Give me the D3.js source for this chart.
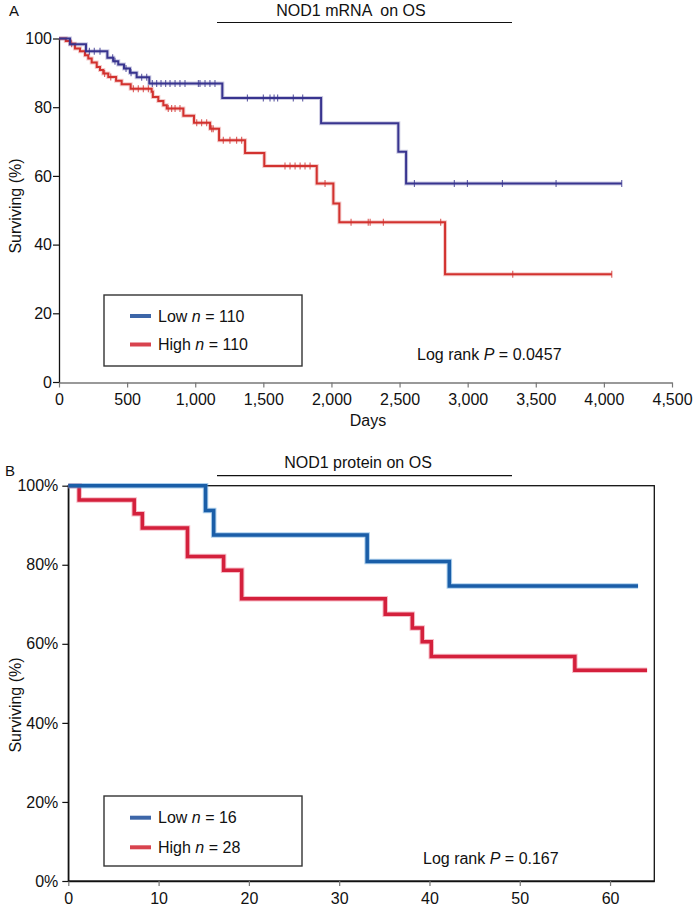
<!DOCTYPE html>
<html><head><meta charset="utf-8">
<script src="https://cdn.jsdelivr.net/npm/d3@7"></script>
<style>body{margin:0;background:#fff}svg{display:block}text{font-family:"Liberation Sans",Arial,sans-serif;fill:#111}</style>
</head><body><svg id="c" width="693" height="910"></svg>
<script>
// ---------- Panel A: NOD1 mRNA on OS ----------
const aXTicks = [0,500,1000,1500,2000,2500,3000,3500,4000,4500];
const aYTicks = [0,20,40,60,80,100];
const aLowTimes = [0,81,198,355,399,435,477,521,570,663,1199,1924,2491,2548];
const aLowSurv  = [100,98.3,96.3,94.4,93.4,92.4,91.3,90.0,88.7,86.9,82.7,75.3,67.0,57.8];
const aLowEnd = 4131;
const aLowCens = [223,259,301,394,411,492,529,607,644,685,717,749,783,815,852,888,925,1023,1035,1072,1108,1145,1383,1500,1549,1579,1605,1720,1789,2609,2902,2998,3255,3649,4131];
const aHighTimes = [0,50,81,117,154,191,215,240,277,301,325,362,419,460,526,680,689,729,766,791,913,991,1109,1175,1366,1507,1892,2014,2058,2834];
const aHighSurv  = [100,99.3,98.5,97.1,96.3,95.1,94.2,93.0,91.7,90.8,89.8,88.8,87.7,86.7,85.4,84.5,83.0,81.8,80.6,79.6,77.5,75.5,73.7,70.4,66.7,62.9,57.8,52.0,46.5,31.4];
const aHighEnd = 4058;
const aHighCens = [93,335,380,546,582,619,656,802,827,852,888,1011,1047,1084,1121,1132,1206,1255,1304,1341,1659,1696,1733,1770,1806,1843,1953,2144,2270,2284,2381,2802,3331,4058];
const aLegend = [{label:"Low", n:"110"},{label:"High", n:"110"}];
const aP = "0.0457";

// ---------- Panel B: NOD1 protein on OS ----------
const bXTicks = [0,10,20,30,40,50,60];
const bYTicks = [0,20,40,60,80,100];
const bLowTimes = [0,15.2,16.1,33.1,42.2];
const bLowSurv  = [100,93.75,87.5,80.8,74.6];
const bLowEnd = 63.1;
const bHighTimes = [0,1.2,7.3,8.2,13.2,17.2,19.2,35.1,38.1,39.2,40.2,56.1];
const bHighSurv  = [100,96.4,92.9,89.3,82.1,78.6,71.4,67.5,64.0,60.5,56.8,53.3];
const bHighEnd = 64.1;
const bLegend = [{label:"Low", n:"16"},{label:"High", n:"28"}];
const bP = "0.167";

const FS = 16;
const svg = d3.select("#c");

function stepPoints(times, surv, end){
  const pts = [];
  for(let i=0;i<times.length;i++){
    if(i>0) pts.push([times[i], surv[i-1]]);
    pts.push([times[i], surv[i]]);
  }
  pts.push([end, surv[surv.length-1]]);
  return pts;
}
function survAt(times, surv, t){
  let v = surv[0];
  for(let i=0;i<times.length;i++){ if(times[i] <= t) v = surv[i]; }
  return v;
}

// ===== Panel A =====
const ax = d3.scaleLinear().domain([0,4500]).range([59,672]);
const ay = d3.scaleLinear().domain([0,100]).range([382,38.5]);
const lineA = d3.line().x(d=>ax(d[0])).y(d=>ay(d[1]));

svg.append("text").attr("x",9).attr("y",16).attr("font-size",15).text("A");
svg.append("text").attr("x",351).attr("y",16).attr("font-size",FS).attr("text-anchor","middle").attr("xml:space","preserve").text("NOD1 mRNA  on OS");
svg.append("line").attr("x1",217).attr("x2",512).attr("y1",22.5).attr("y2",22.5).attr("stroke","#111").attr("stroke-width",1.2);

const gAx = svg.append("g").attr("transform","translate(0,382.5)")
  .call(d3.axisBottom(ax).tickValues(aXTicks).tickSize(5).tickSizeOuter(0).tickFormat(d3.format(",")));
gAx.select(".domain").attr("stroke","#777").attr("stroke-width",1.5);
gAx.selectAll(".tick line").attr("stroke","#777").attr("stroke-width",1.2);
gAx.selectAll("text").attr("font-size",FS).attr("y",22.5).attr("dy",0).attr("fill","#111");

const gAy = svg.append("g").attr("transform","translate(59,0)")
  .call(d3.axisLeft(ay).tickValues(aYTicks).tickSize(6).tickSizeOuter(0));
gAy.select(".domain").attr("stroke","#111").attr("stroke-width",1.3);
gAy.selectAll(".tick line").attr("stroke","#111").attr("stroke-width",1.2);
gAy.selectAll("text").attr("font-size",FS).attr("x",-7).attr("fill","#111");

svg.append("text").attr("transform","translate(21,206) rotate(-90)").attr("font-size",FS).attr("text-anchor","middle").text("Surviving (%)");
svg.append("text").attr("x",368).attr("y",426).attr("font-size",FS).attr("text-anchor","middle").text("Days");

function drawA(times, surv, end, cens, color){
  const pts = stepPoints(times, surv, end);
  svg.append("path").attr("d",lineA(pts)).attr("fill","none").attr("stroke",color).attr("stroke-opacity",0.25).attr("stroke-width",4);
  svg.append("path").attr("d",lineA(pts)).attr("fill","none").attr("stroke",color).attr("stroke-width",2);
  svg.append("g").selectAll("line").data(cens).join("line")
    .attr("x1",d=>ax(d)).attr("x2",d=>ax(d))
    .attr("y1",d=>ay(survAt(times,surv,d))-3.5).attr("y2",d=>ay(survAt(times,surv,d))+3.5)
    .attr("stroke",color).attr("stroke-opacity",0.8).attr("stroke-width",1.1);
}
drawA(aHighTimes, aHighSurv, aHighEnd, aHighCens, "#d2322f");
drawA(aLowTimes, aLowSurv, aLowEnd, aLowCens, "#38348f");

function legend(x0,y0,w,h,items,colors,lys,tys){
  svg.append("rect").attr("x",x0).attr("y",y0).attr("width",w).attr("height",h).attr("fill","#fff").attr("stroke","#333").attr("stroke-width",1.4);
  items.forEach((it,i)=>{
    svg.append("line").attr("x1",130).attr("x2",151).attr("y1",lys[i]).attr("y2",lys[i]).attr("stroke",colors[i]).attr("stroke-width",4);
    const t = svg.append("text").attr("x",158).attr("y",tys[i]).attr("font-size",FS);
    t.append("tspan").text(it.label+" ");
    t.append("tspan").attr("font-style","italic").text("n");
    t.append("tspan").text(" = "+it.n);
  });
}
legend(104,295,198,71,aLegend,["#3d66a8","#d8434e"],[316,344.5],[321.7,350]);

function pText(x,y,p){
  const t = svg.append("text").attr("x",x).attr("y",y).attr("font-size",FS);
  t.append("tspan").text("Log rank ");
  t.append("tspan").attr("font-style","italic").text("P");
  t.append("tspan").text(" = "+p);
}
pText(417,360,aP);

// ===== Panel B =====
const bx = d3.scaleLinear().domain([0,64.9]).range([68.3,654.3]);
const by = d3.scaleLinear().domain([0,100]).range([881,485.7]);
const lineB = d3.line().x(d=>bx(d[0])).y(d=>by(d[1]));

svg.append("text").attr("x",5).attr("y",476).attr("font-size",15).text("B");
svg.append("text").attr("x",358).attr("y",468.3).attr("font-size",FS).attr("text-anchor","middle").text("NOD1 protein on OS");
svg.append("line").attr("x1",217).attr("x2",512).attr("y1",475.7).attr("y2",475.7).attr("stroke","#111").attr("stroke-width",1.2);

svg.append("rect").attr("x",68.3).attr("y",485.7).attr("width",586).attr("height",395.3).attr("fill","none").attr("stroke","#111").attr("stroke-width",1.3);

const gBx = svg.append("g").attr("transform","translate(0,881)")
  .call(d3.axisBottom(bx).tickValues(bXTicks).tickSize(5).tickSizeOuter(0));
gBx.select(".domain").attr("stroke","#111").attr("stroke-width",1.3);
gBx.selectAll(".tick line").attr("stroke","#777").attr("stroke-width",1.2);
gBx.selectAll("text").attr("font-size",FS).attr("y",23).attr("dy",0).attr("fill","#111");

const gBy = svg.append("g").attr("transform","translate(68.3,0)")
  .call(d3.axisLeft(by).tickValues(bYTicks).tickSize(6).tickSizeOuter(0).tickFormat(d=>d+"%"));
gBy.select(".domain").attr("stroke","#111").attr("stroke-width",1.3);
gBy.selectAll(".tick line").attr("stroke","#111").attr("stroke-width",1.2);
gBy.selectAll("text").attr("font-size",FS).attr("x",-10).attr("fill","#111");

svg.append("text").attr("transform","translate(21,705) rotate(-90)").attr("font-size",FS).attr("text-anchor","middle").text("Surviving (%)");

function drawB(times, surv, end, color, halo){
  const pts = stepPoints(times, surv, end);
  svg.append("path").attr("d",lineB(pts)).attr("fill","none").attr("stroke",halo).attr("stroke-opacity",0.5).attr("stroke-width",5.5);
  svg.append("path").attr("d",lineB(pts)).attr("fill","none").attr("stroke",color).attr("stroke-width",3.5);
}
drawB(bHighTimes, bHighSurv, bHighEnd, "#d4203c", "#f07a90");
drawB(bLowTimes, bLowSurv, bLowEnd, "#1a5ea8", "#5aa0dc");

legend(104,796,198,70,bLegend,["#3d66a8","#d8434e"],[817.7,847.3],[823.3,852.7]);
pText(423,864,bP);
</script></body></html>
